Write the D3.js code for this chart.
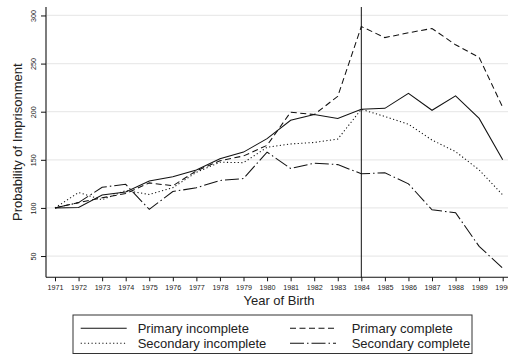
<!DOCTYPE html>
<html>
<head>
<meta charset="utf-8">
<script src="https://cdn.jsdelivr.net/npm/d3@7"></script>
<style>
  html, body { margin: 0; padding: 0; background: #fff; overflow: hidden; }
  svg { display: block; font-family: "Liberation Sans", Arial, Helvetica, sans-serif; }
</style>
</head>
<body>
<svg id="chart" width="508" height="360"></svg>
<script>
// Birth cohorts
const years = d3.range(1971, 1991);

// Probability of imprisonment index (1971 = 100), by education level
const primaryIncomplete   = [100, 100.5, 113.5, 116.5, 128, 132.5, 139.5, 151, 158, 172, 191, 197, 193, 202.5, 203.5, 219, 201.5, 216.5, 193, 150];
const primaryComplete     = [100, 105.5, 110.5, 115, 126, 123, 138.5, 149, 154, 165, 199.5, 197, 216, 288.5, 277, 282, 286.5, 269.5, 256.5, 204.5];
const secondaryIncomplete = [100, 116, 108.5, 118, 114, 121, 137, 147.5, 147, 163, 166.5, 168, 171.5, 202.5, 195, 187, 170.5, 158.5, 139.5, 113.5];
const secondaryComplete   = [100, 105.5, 121.5, 124.5, 98.5, 117, 121, 128.5, 130.5, 158, 141, 146.5, 145, 135.5, 136.5, 125, 98, 95, 60, 37.5];

const yTicks = [50, 100, 150, 200, 250, 300];
const markerYear = 1984;

const seriesNames = ["Primary incomplete", "Primary complete", "Secondary incomplete", "Secondary complete"];
const seriesValues = [primaryIncomplete, primaryComplete, secondaryIncomplete, secondaryComplete];
const seriesDash = [null, "6,3.5", "1.2,2.4", "14,3,1.5,3"];

const svg = d3.select("#chart");
const ink = "#111";

const plotLeft = 46, plotTop = 7, plotBottom = 277.3;
const x = d3.scaleLinear().domain([1971, 1990]).range([55, 502.7]);
const y = d3.scaleLinear().domain([27.9, 308.8]).range([plotBottom, plotTop]);

// Horizontal grid
svg.append("g")
  .selectAll("line")
  .data(yTicks)
  .join("line")
  .attr("x1", plotLeft + 1).attr("x2", 520)
  .attr("y1", d => y(d)).attr("y2", d => y(d))
  .attr("stroke", "#eaeaea").attr("stroke-width", 1.2);

// Y axis
const yAxis = svg.append("g")
  .attr("transform", `translate(${plotLeft},0)`)
  .call(d3.axisLeft(y).tickValues(yTicks).tickSize(5).tickSizeOuter(0));
yAxis.select(".domain").remove();
yAxis.selectAll(".tick line").attr("stroke", ink);
yAxis.selectAll(".tick text")
  .attr("x", null).attr("dy", null)
  .attr("transform", "translate(-10.5,0) rotate(-90)")
  .attr("text-anchor", "middle")
  .attr("font-size", 7.2)
  .attr("fill", "#222");
svg.append("line")
  .attr("x1", plotLeft).attr("x2", plotLeft)
  .attr("y1", plotTop).attr("y2", plotBottom)
  .attr("stroke", ink).attr("stroke-width", 1.1);

// X axis
const xAxis = svg.append("g")
  .attr("transform", `translate(0,${plotBottom})`)
  .call(d3.axisBottom(x).tickValues(years).tickFormat(d3.format("d")).tickSize(4).tickSizeOuter(0));
xAxis.select(".domain").remove();
xAxis.selectAll(".tick line").attr("stroke", ink);
xAxis.selectAll(".tick text")
  .attr("y", 13).attr("dy", null)
  .attr("font-size", 7.2)
  .attr("fill", "#222");
svg.append("line")
  .attr("x1", plotLeft).attr("x2", 520)
  .attr("y1", plotBottom).attr("y2", plotBottom)
  .attr("stroke", ink).attr("stroke-width", 1.1);

// Reference line at the 1984 cohort
svg.append("line")
  .attr("x1", x(markerYear)).attr("x2", x(markerYear))
  .attr("y1", plotTop).attr("y2", plotBottom)
  .attr("stroke", ink).attr("stroke-width", 1);

// Series lines
const line = d3.line().x((d, i) => x(years[i])).y(d => y(d));
svg.append("g")
  .selectAll("path")
  .data(seriesValues)
  .join("path")
  .attr("d", d => line(d))
  .attr("fill", "none")
  .attr("stroke", ink)
  .attr("stroke-width", 1.05)
  .attr("stroke-dasharray", (d, i) => seriesDash[i]);

// Axis titles
svg.append("text")
  .attr("transform", "translate(22,142.2) rotate(-90)")
  .attr("text-anchor", "middle")
  .attr("font-size", 13)
  .attr("fill", "#222")
  .text("Probability of Imprisonment");
svg.append("text")
  .attr("x", 279).attr("y", 304.5)
  .attr("text-anchor", "middle")
  .attr("font-size", 13)
  .attr("fill", "#222")
  .text("Year of Birth");

// Legend
const legend = svg.append("g");
legend.append("rect")
  .attr("x", 73).attr("y", 315).attr("width", 399).attr("height", 38.5)
  .attr("fill", "#fff").attr("stroke", "#333").attr("stroke-width", 1);
const slots = [
  { lx: 80.7, tx: 137.7, ly: 328.3, ty: 332.7 },
  { lx: 290, tx: 351.7, ly: 328.3, ty: 332.7 },
  { lx: 80.7, tx: 137.7, ly: 343.3, ty: 347.7 },
  { lx: 290, tx: 351.7, ly: 343.3, ty: 347.7 }
];
seriesNames.forEach((name, i) => {
  const s = slots[i];
  legend.append("line")
    .attr("x1", s.lx).attr("x2", s.lx + 46)
    .attr("y1", s.ly).attr("y2", s.ly)
    .attr("stroke", ink).attr("stroke-width", 1.05)
    .attr("stroke-dasharray", seriesDash[i]);
  legend.append("text")
    .attr("x", s.tx).attr("y", s.ty)
    .attr("font-size", 13)
    .attr("fill", "#222")
    .text(name);
});
</script>
</body>
</html>
